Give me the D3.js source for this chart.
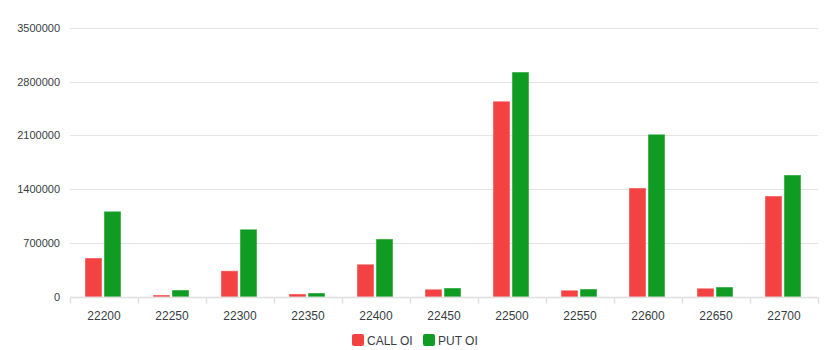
<!DOCTYPE html>
<html><head><meta charset="utf-8">
<script src="https://cdn.jsdelivr.net/npm/d3@7"></script>
<style>body{margin:0;background:#fff;font-family:"Liberation Sans",Arial,sans-serif;}</style>
</head><body><svg id="c" width="828" height="350"></svg>
<script>
const categories = ["22200","22250","22300","22350","22400","22450","22500","22550","22600","22650","22700"];
const callOI = [502000, 20000, 336000, 33000, 420000, 94000, 2545000, 81000, 1414000, 107000, 1310000];
const putOI  = [1110000, 85000, 876000, 46000, 750000, 111000, 2926000, 98000, 2114000, 124000, 1584000];
const yTicks = [0, 700000, 1400000, 2100000, 2800000, 3500000];
const seriesNames = ["CALL OI", "PUT OI"];
const colors = ["#f44242", "#109c23"];

const svg = d3.select("#c");
const m = {l:70, r:10, t:28, b:53.5};
const W = 828, H = 350;
const x = d3.scaleBand().domain(categories).range([m.l, W - m.r]);
const y = d3.scaleLinear().domain([0, 3500000]).range([H - m.b, m.t]);

// grid
svg.append("g").selectAll("line").data(yTicks).join("line")
  .attr("x1", m.l).attr("x2", W - m.r)
  .attr("y1", d => Math.round(y(d)) + 0.5).attr("y2", d => Math.round(y(d)) + 0.5)
  .attr("stroke", "#e4e4e4").attr("stroke-width", 1);

// y labels
svg.append("g").selectAll("text").data(yTicks).join("text")
  .attr("x", 60).attr("y", d => y(d) + 4)
  .attr("text-anchor", "end").attr("font-size", 11).attr("fill", "#373d3f")
  .text(d => d);

// bars
const inner = d3.scaleBand().domain([0,1]).range([15, 51]).paddingInner(2/19);
const data = categories.map((c,i) => [callOI[i], putOI[i]]);
const g = svg.append("g");
categories.forEach((c, i) => {
  [0,1].forEach(s => {
    const v = data[i][s];
    g.append("rect")
      .attr("x", x(c) + inner(s) + 0.5)
      .attr("y", y(v) + 0.5)
      .attr("width", inner.bandwidth() - 1)
      .attr("height", Math.max(0, y(0) - y(v) - 0.5))
      .attr("fill", colors[s])
      .attr("stroke", colors[s]).attr("stroke-opacity", 0.55).attr("stroke-width", 1);
  });
});

// x axis
const ax = svg.append("g").attr("transform", `translate(0,${Math.round(y(0)) + 0.5})`);
ax.append("line").attr("x1", m.l).attr("x2", W - m.r).attr("stroke", "#e0e0e0").attr("stroke-width", 1.5);
const tickXs = categories.map(c => x(c)).concat([W - m.r]);
ax.selectAll("line.t").data(tickXs).join("line").attr("class","t")
  .attr("x1", d => Math.round(d) + 0.5).attr("x2", d => Math.round(d) + 0.5)
  .attr("y1", 0).attr("y2", 6).attr("stroke", "#e0e0e0").attr("stroke-width", 1.5);
ax.selectAll("text").data(categories).join("text")
  .attr("x", d => x(d) + x.bandwidth()/2).attr("y", 22)
  .attr("text-anchor", "middle").attr("font-size", 12).attr("fill", "#373d3f")
  .text(d => d);

// legend
const lg = svg.append("g");
const lx = [352, 423];
seriesNames.forEach((n, i) => {
  lg.append("rect").attr("x", lx[i]).attr("y", 334).attr("width", 12).attr("height", 12)
    .attr("rx", 2).attr("fill", colors[i]);
  lg.append("text").attr("x", lx[i] + 15).attr("y", 344.5).attr("font-size", 12)
    .attr("fill", "#373d3f").text(n);
});
</script></body></html>
